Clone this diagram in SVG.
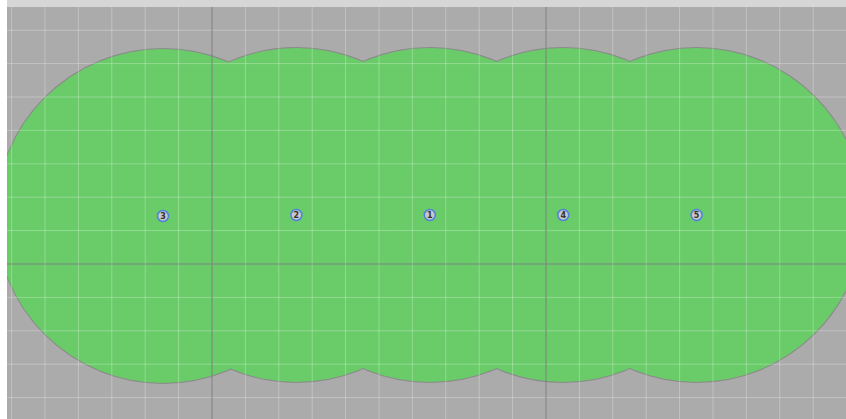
<svg xmlns="http://www.w3.org/2000/svg" width="846" height="419" viewBox="0 0 846 419">
<defs>
<clipPath id="map"><rect x="7" y="7" width="839" height="412"/></clipPath>
<style>
.cs{fill:none;stroke:#8a8a8a;stroke-width:2}
.cf{fill:#69cc69}
.g{stroke:#ffffff;stroke-opacity:0.28;stroke-width:1}
.gd{stroke:#808080;stroke-width:1}
.m{fill:#c8c8c8;stroke:#4f7fe0;stroke-width:1.5}
.t{font-family:"DejaVu Sans",sans-serif;font-size:8px;fill:#333;text-anchor:middle;font-weight:bold}
</style>
</defs>
<rect x="0" y="0" width="846" height="419" fill="#ffffff"/>
<rect x="7" y="0" width="839" height="7" fill="#d6d6d6"/>
<g clip-path="url(#map)">
<rect x="7" y="7" width="839" height="412" fill="#ababab"/>
<g id="coverage">
<circle class="cs" cx="163" cy="216" r="167"/>
<circle class="cs" cx="296.4" cy="215" r="167"/>
<circle class="cs" cx="429.8" cy="215" r="167"/>
<circle class="cs" cx="563.2" cy="215" r="167"/>
<circle class="cs" cx="696.6" cy="215" r="167"/>
<circle class="cf" cx="163" cy="216" r="167"/>
<circle class="cf" cx="296.4" cy="215" r="167"/>
<circle class="cf" cx="429.8" cy="215" r="167"/>
<circle class="cf" cx="563.2" cy="215" r="167"/>
<circle class="cf" cx="696.6" cy="215" r="167"/>
</g>
<g id="grid">
<line class="g" x1="11.6" y1="7" x2="11.6" y2="419"/>
<line class="g" x1="45" y1="7" x2="45" y2="419"/>
<line class="g" x1="78.4" y1="7" x2="78.4" y2="419"/>
<line class="g" x1="111.8" y1="7" x2="111.8" y2="419"/>
<line class="g" x1="145.2" y1="7" x2="145.2" y2="419"/>
<line class="g" x1="178.6" y1="7" x2="178.6" y2="419"/>
<line class="g" x1="245.4" y1="7" x2="245.4" y2="419"/>
<line class="g" x1="278.8" y1="7" x2="278.8" y2="419"/>
<line class="g" x1="312.2" y1="7" x2="312.2" y2="419"/>
<line class="g" x1="345.6" y1="7" x2="345.6" y2="419"/>
<line class="g" x1="379" y1="7" x2="379" y2="419"/>
<line class="g" x1="412.4" y1="7" x2="412.4" y2="419"/>
<line class="g" x1="445.8" y1="7" x2="445.8" y2="419"/>
<line class="g" x1="479.2" y1="7" x2="479.2" y2="419"/>
<line class="g" x1="512.6" y1="7" x2="512.6" y2="419"/>
<line class="g" x1="579.4" y1="7" x2="579.4" y2="419"/>
<line class="g" x1="612.8" y1="7" x2="612.8" y2="419"/>
<line class="g" x1="646.2" y1="7" x2="646.2" y2="419"/>
<line class="g" x1="679.6" y1="7" x2="679.6" y2="419"/>
<line class="g" x1="713" y1="7" x2="713" y2="419"/>
<line class="g" x1="746.4" y1="7" x2="746.4" y2="419"/>
<line class="g" x1="779.8" y1="7" x2="779.8" y2="419"/>
<line class="g" x1="813.2" y1="7" x2="813.2" y2="419"/>
<line class="g" x1="7" y1="30.2" x2="846" y2="30.2"/>
<line class="g" x1="7" y1="63.6" x2="846" y2="63.6"/>
<line class="g" x1="7" y1="97" x2="846" y2="97"/>
<line class="g" x1="7" y1="130.4" x2="846" y2="130.4"/>
<line class="g" x1="7" y1="163.8" x2="846" y2="163.8"/>
<line class="g" x1="7" y1="197.2" x2="846" y2="197.2"/>
<line class="g" x1="7" y1="230.6" x2="846" y2="230.6"/>
<line class="g" x1="7" y1="297.4" x2="846" y2="297.4"/>
<line class="g" x1="7" y1="330.8" x2="846" y2="330.8"/>
<line class="g" x1="7" y1="364.2" x2="846" y2="364.2"/>
<line class="g" x1="7" y1="397.6" x2="846" y2="397.6"/>
<line class="gd" x1="212" y1="7" x2="212" y2="419"/>
<line class="gd" x1="546" y1="7" x2="546" y2="419"/>
<line class="gd" x1="7" y1="264" x2="846" y2="264"/>
</g>
</g>
<g id="node-3"><circle class="m" cx="163" cy="216" r="5.5"/><text class="t" x="163" y="218.9">3</text></g>
<g id="node-2"><circle class="m" cx="296.4" cy="215" r="5.5"/><text class="t" x="296.4" y="217.9">2</text></g>
<g id="node-1"><circle class="m" cx="429.8" cy="215" r="5.5"/><text class="t" x="429.8" y="217.9">1</text></g>
<g id="node-4"><circle class="m" cx="563.2" cy="215" r="5.5"/><text class="t" x="563.2" y="217.9">4</text></g>
<g id="node-5"><circle class="m" cx="696.6" cy="215" r="5.5"/><text class="t" x="696.6" y="217.9">5</text></g>
</svg>
